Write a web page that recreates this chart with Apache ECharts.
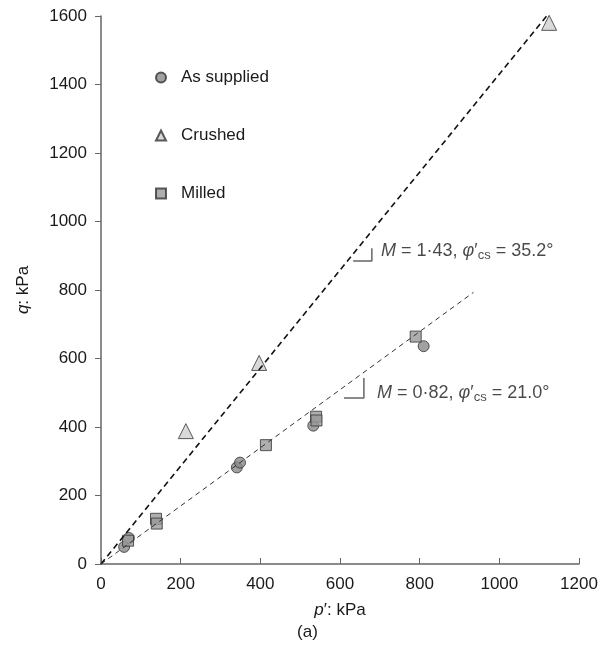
<!DOCTYPE html>
<html>
<head>
<meta charset="utf-8">
<script src="https://cdn.jsdelivr.net/npm/echarts@6/dist/echarts.min.js"></script>
<style>
    html, body {margin:0;padding:0;background:#fff;}
    #chart {width:615px;height:653px;}
</style>
</head>
<body>
<div id="chart"></div>
<script>
    // data (p', q in kPa)
    var asSupplied = [[58, 50], [70, 76], [341, 282], [349, 296], [533, 404], [810, 636]];
    var crushed = [[213, 388], [397, 587], [1125, 1580]];
    var milled = [[68, 68], [138, 132], [140, 118], [414, 347], [540, 430], [541, 419], [790, 664]];

    // critical state lines
    var crushedLine = [[0, 0], [1125, 1609]];
    var suppliedLine = [[0, 0], [935, 793]];

    // slope markers and their labels
    var markUpper = [[633, 885], [680, 885], [680, 922]];
    var markLower = [[610, 485], [660, 485], [660, 543]];
    var labelUpper = [703, 914];
    var labelLower = [693, 499];

    var xTicks = [0, 200, 400, 600, 800, 1000, 1200];
    var yTicks = [0, 200, 400, 600, 800, 1000, 1200, 1400, 1600];

    var font = 'Liberation Sans, Arial, sans-serif';
    var rich = {
        it: {fontStyle: 'italic', fontSize: 17, color: '#1a1a1a', fontFamily: font, lineHeight: 20},
        sub: {fontSize: 12, color: '#1a1a1a', fontFamily: font, verticalAlign: 'bottom', lineHeight: 8},
        t: {fontSize: 17, color: '#1a1a1a', fontFamily: font, lineHeight: 20},
        ai: {fontStyle: 'italic', fontSize: 18, color: '#1a1a1a', fontFamily: font, lineHeight: 22},
        at: {fontSize: 18, color: '#1a1a1a', fontFamily: font, lineHeight: 22},
        as: {fontSize: 13, color: '#1a1a1a', fontFamily: font, verticalAlign: 'bottom', lineHeight: 9}
    };

    var chart = echarts.init(document.getElementById('chart'));
    var option = {
        animation: false,
        textStyle: {fontFamily: font},
        grid: {left: 101, right: 36, top: 16, bottom: 89},
        legend: {
            orient: 'vertical',
            left: 150,
            top: 64,
            itemGap: 41,
            itemWidth: 10,
            itemHeight: 10,
            textStyle: {fontSize: 17, color: '#1a1a1a', fontFamily: font, padding: [0, 0, 0, 10]},
            data: ['As supplied', 'Crushed', 'Milled']
        },
        xAxis: {
            type: 'value',
            min: xTicks[0],
            max: xTicks[xTicks.length - 1],
            interval: 200,
            name: '{it|p}{t|′: kPa}',
            nameLocation: 'middle',
            nameGap: 36,
            nameTextStyle: {rich: rich},
            splitLine: {show: false},
            axisLine: {lineStyle: {color: '#666', width: 1.5}},
            axisTick: {inside: true, length: 6, lineStyle: {color: '#666'}},
            axisLabel: {fontSize: 17, color: '#1a1a1a', margin: 12, formatter: function (v) { return String(v); }}
        },
        yAxis: {
            type: 'value',
            min: yTicks[0],
            max: yTicks[yTicks.length - 1],
            interval: 200,
            name: '{it|q}{t|: kPa}',
            nameLocation: 'middle',
            nameGap: 68,
            nameTextStyle: {rich: rich},
            splitLine: {show: false},
            axisLine: {show: true, lineStyle: {color: '#666', width: 1.5}},
            axisTick: {show: true, length: 6, lineStyle: {color: '#666'}},
            axisLabel: {fontSize: 17, color: '#1a1a1a', margin: 14, formatter: function (v) { return String(v); }}
        },
        graphic: [{
            type: 'text',
            left: 'center',
            top: 624,
            style: {text: '(a)', font: '17px ' + font, fill: '#1a1a1a'},
            x: 40
        }],
        series: [
            {
                name: 'crushed line', type: 'line', data: crushedLine, symbol: 'none', silent: true,
                lineStyle: {color: '#111', width: 1.6, type: [6, 4]}
            },
            {
                name: 'supplied line', type: 'line', data: suppliedLine, symbol: 'none', silent: true,
                lineStyle: {color: '#333', width: 1, type: [5, 4]}
            },
            {
                name: 'mark upper', type: 'line', data: markUpper, symbol: 'none', silent: true,
                lineStyle: {color: '#666', width: 1.5}
            },
            {
                name: 'mark lower', type: 'line', data: markLower, symbol: 'none', silent: true,
                lineStyle: {color: '#666', width: 1.5}
            },
            {
                name: 'As supplied', type: 'scatter', data: asSupplied, symbol: 'circle', symbolSize: 11,
                itemStyle: {color: '#8a8a8a', borderColor: '#333', borderWidth: 1}
            },
            {
                name: 'Crushed', type: 'scatter', data: crushed, symbol: 'triangle', symbolSize: 15,
                itemStyle: {color: '#cfcfcf', borderColor: '#333', borderWidth: 1}
            },
            {
                name: 'Milled', type: 'scatter', data: milled, symbol: 'rect', symbolSize: 11,
                itemStyle: {color: '#9a9a9a', borderColor: '#333', borderWidth: 1}
            },
            {
                name: 'labels', type: 'scatter', symbolSize: 0, silent: true,
                data: [
                    {value: labelUpper, label: {formatter: '{ai|M}{at| = 1·43, }{ai|φ}{at|′}{as|cs}{at| = 35.2°}'}},
                    {value: labelLower, label: {formatter: '{ai|M}{at| = 0·82, }{ai|φ}{at|′}{as|cs}{at| = 21.0°}'}}
                ],
                label: {show: true, position: 'right', distance: 0, color: '#1a1a1a', rich: rich}
            }
        ]
    };
    chart.setOption(option);
    window.onresize = function () {
        chart.resize();
    };
</script>
</body>
</html>
